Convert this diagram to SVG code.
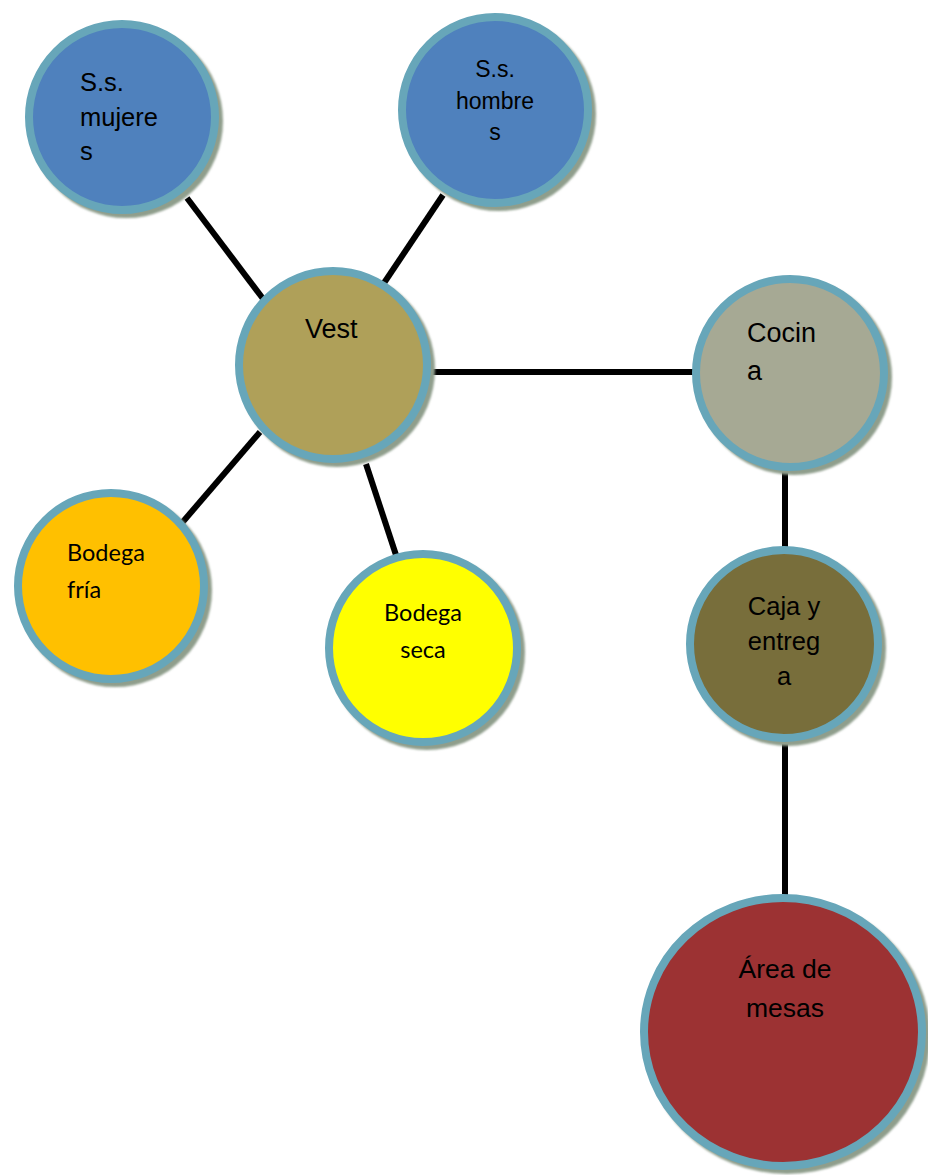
<svg xmlns="http://www.w3.org/2000/svg" width="928" height="1175" viewBox="0 0 928 1175">
  <style>
    .shadow { fill: #8f9e8c; filter: url(#soft); }
    .disc { stroke: #67a6b9; stroke-width: 8; }
    .edge { stroke: #000; stroke-width: 6; fill: none; }
    .lbl { font-family: "Liberation Sans", Arial, sans-serif; fill: #000; }
    .cal { font-family: Lato, "Open Sans", sans-serif; fill: #000; font-size: 23.5px; }
  </style>
  <defs>
    <filter id="soft" x="-10%" y="-10%" width="120%" height="120%">
      <feGaussianBlur stdDeviation="1.2"/>
    </filter>
  </defs>
  <rect width="928" height="1175" fill="#fff"/>

  <!-- connectors -->
  <g id="connectors">
    <line class="edge" x1="187" y1="198" x2="264" y2="300"/>
    <line class="edge" x1="443" y1="195" x2="384" y2="283"/>
    <line class="edge" x1="430" y1="372" x2="694" y2="372"/>
    <line class="edge" x1="260" y1="432" x2="181" y2="524"/>
    <line class="edge" x1="366" y1="464" x2="396" y2="555"/>
    <line class="edge" x1="785" y1="468" x2="785" y2="549"/>
    <line class="edge" x1="785" y1="744" x2="785" y2="900"/>
  </g>

  <!-- S.s. mujeres -->
  <g id="ss-mujeres">
    <circle class="shadow" cx="126" cy="121" r="97"/>
    <circle class="disc" cx="122" cy="117" r="93" fill="#4f81bd"/>
    <text class="lbl" font-size="25.5" x="80" y="91">S.s.</text>
    <text class="lbl" font-size="25.5" x="80" y="126">mujere</text>
    <text class="lbl" font-size="25.5" x="80" y="160">s</text>
  </g>

  <!-- S.s. hombres -->
  <g id="ss-hombres">
    <circle class="shadow" cx="499" cy="114" r="97"/>
    <circle class="disc" cx="495" cy="110" r="93" fill="#4f81bd"/>
    <text class="lbl" font-size="23" text-anchor="middle" x="495" y="77">S.s.</text>
    <text class="lbl" font-size="23" text-anchor="middle" x="495" y="109">hombre</text>
    <text class="lbl" font-size="23" text-anchor="middle" x="495" y="140">s</text>
  </g>

  <!-- Vest -->
  <g id="vest">
    <circle class="shadow" cx="337" cy="369" r="98"/>
    <circle class="disc" cx="333" cy="365" r="94" fill="#afa059"/>
    <text class="lbl" font-size="27" x="305" y="338">Vest</text>
  </g>

  <!-- Cocina -->
  <g id="cocina">
    <circle class="shadow" cx="794" cy="377" r="98"/>
    <circle class="disc" cx="790" cy="373" r="94" fill="#a6a994"/>
    <text class="lbl" font-size="27" x="747" y="342">Cocin</text>
    <text class="lbl" font-size="27" x="747" y="380">a</text>
  </g>

  <!-- Bodega fría -->
  <g id="bodega-fria">
    <circle class="shadow" cx="115" cy="590" r="97"/>
    <circle class="disc" cx="111" cy="586" r="93" fill="#ffc000"/>
    <text class="cal" x="67" y="561">Bodega</text>
    <text class="cal" x="67" y="598">fría</text>
  </g>

  <!-- Bodega seca -->
  <g id="bodega-seca">
    <circle class="shadow" cx="427" cy="652" r="98"/>
    <circle class="disc" cx="423" cy="648" r="94" fill="#ffff00"/>
    <text class="cal" text-anchor="middle" x="423" y="621">Bodega</text>
    <text class="cal" text-anchor="middle" x="423" y="658">seca</text>
  </g>

  <!-- Caja y entrega -->
  <g id="caja-entrega">
    <circle class="shadow" cx="788" cy="648" r="98"/>
    <circle class="disc" cx="784" cy="644" r="94" fill="#786e3b"/>
    <text class="lbl" font-size="25.5" text-anchor="middle" x="784" y="615">Caja y</text>
    <text class="lbl" font-size="25.5" text-anchor="middle" x="784" y="650">entreg</text>
    <text class="lbl" font-size="25.5" text-anchor="middle" x="784" y="685">a</text>
  </g>

  <!-- Área de mesas -->
  <g id="area-mesas">
    <ellipse class="shadow" cx="787" cy="1036" rx="143" ry="138"/>
    <ellipse class="disc" cx="783" cy="1032" rx="139" ry="134" fill="#9c3233"/>
    <text class="lbl" font-size="26.5" text-anchor="middle" x="785" y="978">Área de</text>
    <text class="lbl" font-size="26.5" text-anchor="middle" x="785" y="1017">mesas</text>
  </g>
</svg>
